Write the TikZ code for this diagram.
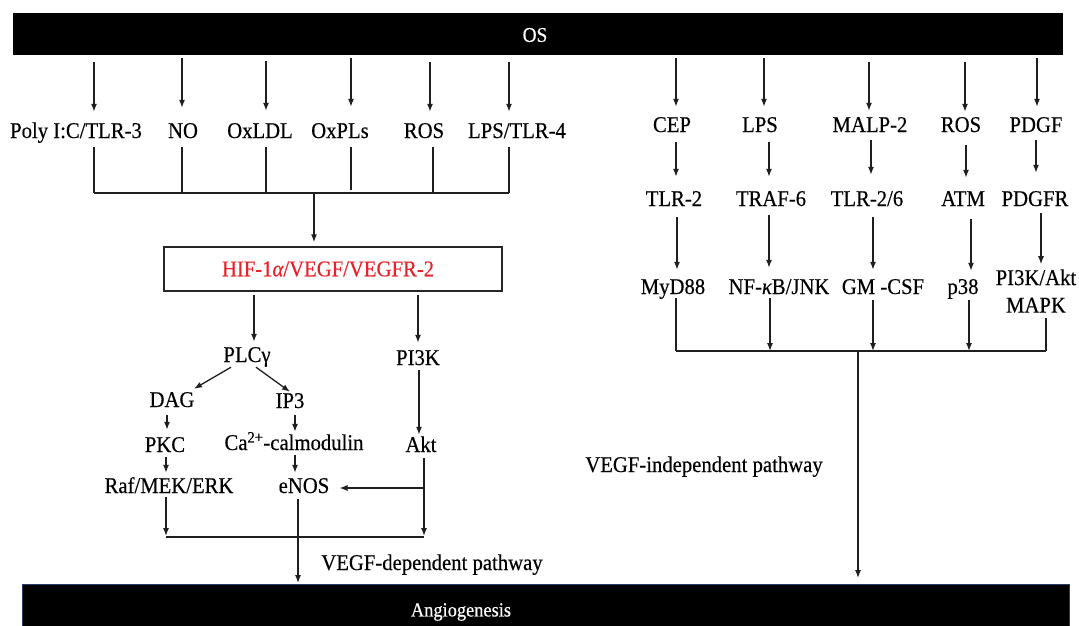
\documentclass[tikz,border=0pt]{standalone}
\usepackage{fontspec}
\setmainfont{Liberation Serif}[FakeStretch=0.92,FakeBold=0.35]
\usetikzlibrary{arrows.meta}
\definecolor{hifred}{RGB}{232,34,40}
\definecolor{barline}{RGB}{40,60,110}
\newcommand\lblfont{\fontsize{22.5}{27.5}\selectfont}
\tikzset{
  lbl/.style={font=\lblfont, inner sep=0pt, text height=14pt, text depth=4pt},
  lbltwo/.style={font=\lblfont, inner sep=0pt, align=center},
  ln/.style={line width=1.3pt, draw=black!88},
  arr/.style={ln, -{Latex[length=8pt,width=6pt]}},
}
\begin{document}
\begin{tikzpicture}[x=1pt,y=-1pt]
\useasboundingbox (0,0) rectangle (1079,626);

% bars
\node[fill=black, minimum width=1050pt, minimum height=42pt, inner sep=0pt] (os) at (538,34) {};
\node[text=white, font=\fontsize{21}{24}\selectfont, inner sep=0pt] (ost) at (535,35) {OS};
\node[fill=black, draw=barline, line width=0.8pt, minimum width=1047pt, minimum height=60pt,
      anchor=north west, inner sep=0pt] (ang) at (22,584) {};
\node[text=white, font=\fontsize{20}{24}\selectfont, inner sep=0pt] (angt) at (461,612) {Angiogenesis};

% ---------------- left: VEGF-dependent ----------------
\node[lbl] (poly)  at (76,133)  {Poly I:C/TLR-3};
\node[lbl] (no)    at (183,133) {NO};
\node[lbl] (oxldl) at (260,133) {OxLDL};
\node[lbl] (oxpl)  at (340,133) {OxPLs};
\node[lbl] (rosl)  at (424,133) {ROS};
\node[lbl] (lpsf)  at (517,133) {LPS/TLR-4};

\draw[arr, shorten <=7pt, shorten >=12pt] (os.south -| 94,0)  -- (poly.north -| 94,0);
\draw[arr, shorten <=3pt, shorten >=16pt] (os.south -| 182,0) -- (no.north -| 182,0);
\draw[arr, shorten <=6pt, shorten >=13pt] (os.south -| 266,0) -- (oxldl.north -| 266,0);
\draw[arr, shorten <=3pt, shorten >=17pt] (os.south -| 351,0) -- (oxpl.north -| 351,0);
\draw[arr, shorten <=7pt, shorten >=12pt] (os.south -| 430,0) -- (rosl.north -| 430,0);
\draw[arr, shorten <=7pt, shorten >=12pt] (os.south -| 509,0) -- (lpsf.north -| 509,0);

\coordinate (jl) at (314,193);
\draw[ln, shorten <=5pt] (poly.south -| 94,0)  -- (94,0 |- jl);
\draw[ln, shorten <=5pt] (no.south -| 182,0)   -- (182,0 |- jl);
\draw[ln, shorten <=5pt] (oxldl.south -| 266,0) -- (266,0 |- jl);
\draw[ln, shorten <=5pt, shorten >=3pt] (oxpl.south -| 351,0) -- (351,0 |- jl);
\draw[ln, shorten <=5pt] (rosl.south -| 433,0) -- (433,0 |- jl);
\draw[ln, shorten <=5pt] (lpsf.south -| 509,0) -- (509,0 |- jl);
\draw[ln] (94,0 |- jl) -- (509,0 |- jl);

\node[draw=black!85, line width=1.3pt, minimum width=338pt, minimum height=44pt, inner sep=0pt] (hif) at (333,269) {};
\node[text=hifred, font=\lblfont, inner sep=0pt] (hift) at (328,269) {HIF-1{\itshape α}/VEGF/VEGFR-2};
\draw[arr, shorten >=4pt] (jl) -- (jl |- hif.north);

\node[lbl] (plc)  at (247,357) {PLCγ};
\node[lbl] (pik)  at (418,360) {PI3K};
\node[lbl] (dag)  at (172,402) {DAG};
\node[lbl] (ipt)  at (290,403) {IP3};
\node[lbl] (pkc)  at (165,447) {PKC};
\node[lbl] (cam)  at (294,445) {Ca\textsuperscript{2+}-calmodulin};
\node[lbl] (akt)  at (421,447) {Akt};
\node[lbl] (raf)  at (169,488) {Raf/MEK/ERK};
\node[lbl] (enos) at (304,488) {eNOS};
\node[lbl] (vdep) at (432,565) {VEGF-dependent pathway};

\draw[arr, shorten <=3pt, shorten >=6pt] (hif.south -| 254,0) -- (plc.north -| 254,0);
\draw[arr, shorten <=3pt, shorten >=8pt] (hif.south -| 418,0) -- (pik.north -| 418,0);
\draw[arr] ([xshift=-16pt,yshift=-1pt]plc.south) -- ([xshift=22pt,yshift=4pt]dag.north);
\draw[arr] ([xshift=9pt,yshift=-1pt]plc.south) -- ([yshift=2pt]ipt.north);
\draw[arr, shorten <=4pt, shorten >=8pt] (dag.south -| 167,0) -- (pkc.north -| 167,0);
\draw[arr, shorten <=3pt, shorten >=4pt] (ipt.south -| 295,0) -- (cam.north -| 295,0);
\draw[arr, shorten <=1pt, shorten >=3pt] (pik.south -| 419,0) -- (akt.north -| 419,0);
\draw[arr, shorten <=1pt, shorten >=6pt] (pkc.south -| 166,0) -- (raf.north -| 166,0);
\draw[arr, shorten <=1pt, shorten >=6pt] (cam.south -| 295,0) -- (enos.north -| 295,0);

\coordinate (jlf) at (166,537);
\coordinate (jrt) at (424,537);
\draw[arr, shorten <=2pt, shorten >=1pt] (akt.south -| jrt) -- (jrt);
\draw[arr, shorten >=10pt] (jrt |- enos.east) -- (enos.east);
\draw[arr, shorten >=1pt] (raf.south -| jlf) -- (jlf);
\draw[ln] (jlf) -- (jrt);
\draw[arr, shorten <=2pt, shorten >=1pt] (enos.south -| 298,0) -- (ang.north -| 298,0);

% ---------------- right: VEGF-independent ----------------
\node[lbl] (cep)  at (672,127)  {CEP};
\node[lbl] (lpsr) at (760,127)  {LPS};
\node[lbl] (malp) at (870,127)  {MALP-2};
\node[lbl] (rosr) at (961,127)  {ROS};
\node[lbl] (pdgf) at (1036,127) {PDGF};

\node[lbl] (tlrt) at (674,201)  {TLR-2};
\node[lbl] (traf) at (771,201)  {TRAF-6};
\node[lbl] (tlrs) at (867,201)  {TLR-2/6};
\node[lbl] (atm)  at (963,201)  {ATM};
\node[lbl] (pdgfr) at (1035,201) {PDGFR};

\node[lbl] (myd)  at (673,289)  {MyD88};
\node[lbl] (nfkb) at (779,289)  {NF-{\itshape κ}B/JNK};
\node[lbl] (gmcsf) at (883,289) {GM -CSF};
\node[lbl] (pte)  at (963,289)  {p38};
\node[lbltwo] (pamk) at (1036,291) {PI3K/Akt\\MAPK};

\node[lbl] (vind) at (704,467) {VEGF-independent pathway};

\draw[arr, shorten <=3pt, shorten >=11pt] (os.south -| 676,0)  -- (cep.north -| 676,0);
\draw[arr, shorten <=3pt, shorten >=11pt] (os.south -| 764,0)  -- (lpsr.north -| 764,0);
\draw[arr, shorten <=7pt, shorten >=7pt]  (os.south -| 869,0)  -- (malp.north -| 869,0);
\draw[arr, shorten <=7pt, shorten >=6pt]  (os.south -| 965,0)  -- (rosr.north -| 965,0);
\draw[arr, shorten <=3pt, shorten >=11pt] (os.south -| 1037,0) -- (pdgf.north -| 1037,0);

\draw[arr, shorten <=6pt, shorten >=15pt] (cep.south -| 676,0)  -- (tlrt.north -| 676,0);
\draw[arr, shorten <=6pt, shorten >=15pt] (lpsr.south -| 769,0) -- (traf.north -| 769,0);
\draw[arr, shorten <=4pt, shorten >=17pt] (malp.south -| 871,0) -- (tlrs.north -| 871,0);
\draw[arr, shorten <=9pt, shorten >=14pt] (rosr.south -| 966,0) -- (atm.north -| 966,0);
\draw[arr, shorten <=4pt, shorten >=19pt] (pdgf.south -| 1036,0) -- (pdgfr.north -| 1036,0);

\draw[arr, shorten <=7pt, shorten >=10pt] (tlrt.south -| 677,0)  -- (myd.north -| 677,0);
\draw[arr, shorten <=5pt, shorten >=12pt] (traf.south -| 769,0)  -- (nfkb.north -| 769,0);
\draw[arr, shorten <=7pt, shorten >=10pt] (tlrs.south -| 873,0)  -- (gmcsf.north -| 873,0);
\draw[arr, shorten <=9pt, shorten >=9pt]  (atm.south -| 971,0)   -- (pte.north -| 971,0);
\draw[arr, shorten <=3pt, shorten >=5pt]  (pdgfr.south -| 1041,0) -- (pamk.north -| 1041,0);

\coordinate (jR) at (858,351);
\draw[ln] (myd.south -| 676,0) -- (676,0 |- jR);
\draw[arr] (nfkb.south -| 770,0) -- (770,0 |- jR);
\draw[arr, shorten <=2pt] (gmcsf.south -| 873,0) -- (873,0 |- jR);
\draw[arr, shorten <=2pt] (pte.south -| 969,0) -- (969,0 |- jR);
\draw[ln, shorten <=5pt] (pamk.south -| 1046,0) -- (1046,0 |- jR);
\draw[ln] (676,0 |- jR) -- (1046,0 |- jR);
\draw[arr, shorten >=6pt] (jR) -- (jR |- ang.north);
\end{tikzpicture}
\end{document}
